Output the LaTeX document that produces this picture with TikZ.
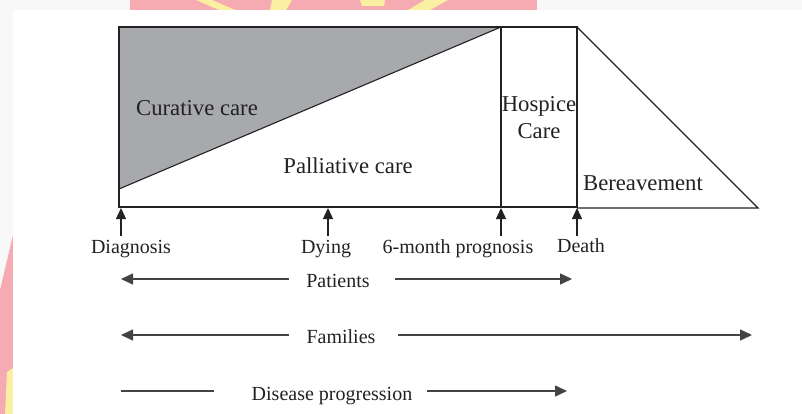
\documentclass[tikz,border=0pt]{standalone}
\usepackage{fontspec}
\setmainfont{Liberation Serif}
\usetikzlibrary{arrows.meta}
\definecolor{ink}{HTML}{222222}
\definecolor{cgray}{HTML}{A8A9AC}
\definecolor{bgray}{HTML}{F8F8F8}
\definecolor{wpink}{HTML}{F6AAB1}
\definecolor{wyellow}{HTML}{FBEFA2}
\begin{document}
\begin{tikzpicture}[x=1pt,y=-1pt,line width=1.1pt,
  big/.style={font=\fontsize{22.7}{26}\selectfont,text=ink,inner sep=0pt,anchor=base},
  small/.style={font=\fontsize{20}{24}\selectfont,text=ink,inner sep=0pt,anchor=base},
  uparrow/.style={-{Triangle[length=11pt,width=10pt]},line width=1.3pt,draw=ink},
  horarrow/.style={-{Triangle[length=12pt,width=11pt]},line width=1.4pt,draw=ink!85},
  horline/.style={line width=1.4pt,draw=ink!85}]
\useasboundingbox (0,0) rectangle (802,414);
% background and watermark
\fill[bgray] (0,0) rectangle (802,414);
\fill[wpink] (130,0) -- (537,0) -- (537,10) -- (130,10) -- cycle;
\fill[wyellow] (196,0) -- (212,0) -- (235,10) -- (219,10) -- cycle;
\fill[wyellow] (272,0) -- (292,0) -- (286,10) -- (270,10) -- cycle;
\fill[wyellow] (360,0) -- (385,0) -- (384,6) -- (362,6) -- cycle;
\fill[wyellow] (425,0) -- (448,0) -- (430,10) -- (408,10) -- cycle;
\fill[wpink] (13,235) -- (13,414) -- (0,414) -- (0,290) -- cycle;
\fill[wyellow] (7,372) -- (13,368) -- (13,414) -- (5,414) -- cycle;
\fill[white] (13,10) rectangle (802,414);
% main diagram
\coordinate (tl) at (119,27);
\coordinate (tr) at (501,27);
\coordinate (bl) at (119,207);
\coordinate (dl) at (119,189);
\coordinate (hbl) at (501,207);
\coordinate (hbr) at (577,207);
\coordinate (htr) at (577,27);
\coordinate (tri) at (758,208);
\coordinate (trb) at (577,208);
\fill[cgray] (tl) -- (tr) -- (dl) -- cycle;
\draw[ink] (dl) -- (tr);
\draw[ink] (tr) -- (tl) -- (bl) -- (hbl);
\draw[ink] (tr) rectangle (hbr);
\draw[ink,line width=2pt] (hbl) -- (hbr);
\draw[ink] (htr) -- (tri) -- (trb);
% region labels
\node[big] (cur) at (197,116) {Curative care};
\node[big] (pal) at (348,173) {Palliative care};
\node[big] (hos) at (539,112) {Hospice};
\node[big] (hcare) at (539,139) {Care};
\node[big] (ber) at (643,190) {Bereavement};
% timeline markers
\coordinate (m1) at (121,208);
\coordinate (m2) at (328,208);
\coordinate (m3) at (501,208);
\coordinate (m4) at (577,208);
\coordinate (s1) at (121,236);
\coordinate (s2) at (328,236);
\coordinate (s3) at (501,236);
\coordinate (s4) at (577,236);
\draw[uparrow] (s1) -- (m1);
\draw[uparrow] (s2) -- (m2);
\draw[uparrow] (s3) -- (m3);
\draw[uparrow] (s4) -- (m4);
\node[small] (diag) at (131,253) {Diagnosis};
\node[small] (dying) at (326,253) {Dying};
\node[small] (six) at (458,253) {6-month prognosis};
\node[small] (death) at (581,252) {Death};
% bottom arrows
\node[small] (pat) at (338,287) {Patients};
\coordinate (pl) at (121,279);
\coordinate (pr) at (572,279);
\draw[horarrow] (pat.west |- pl) ++(-17,0) coordinate (pls) -- (pl);
\draw[horarrow] (pat.east |- pr) ++(25,0) coordinate (prs) -- (pr);
\node[small] (fam) at (341,343) {Families};
\coordinate (fl) at (121,335);
\coordinate (fr) at (752,335);
\draw[horarrow] (fam.west |- fl) ++(-17,0) coordinate (fls) -- (fl);
\draw[horarrow] (fam.east |- fr) ++(22,0) coordinate (frs) -- (fr);
\node[small] (dis) at (332,400) {Disease progression};
\coordinate (dl1) at (121,391);
\coordinate (dl2) at (214,391);
\coordinate (dr) at (567,391);
\draw[horline] (dl1) -- (dl2);
\draw[horarrow] (dis.east |- dr) ++(14,0) coordinate (drs) -- (dr);
\end{tikzpicture}
\end{document}
